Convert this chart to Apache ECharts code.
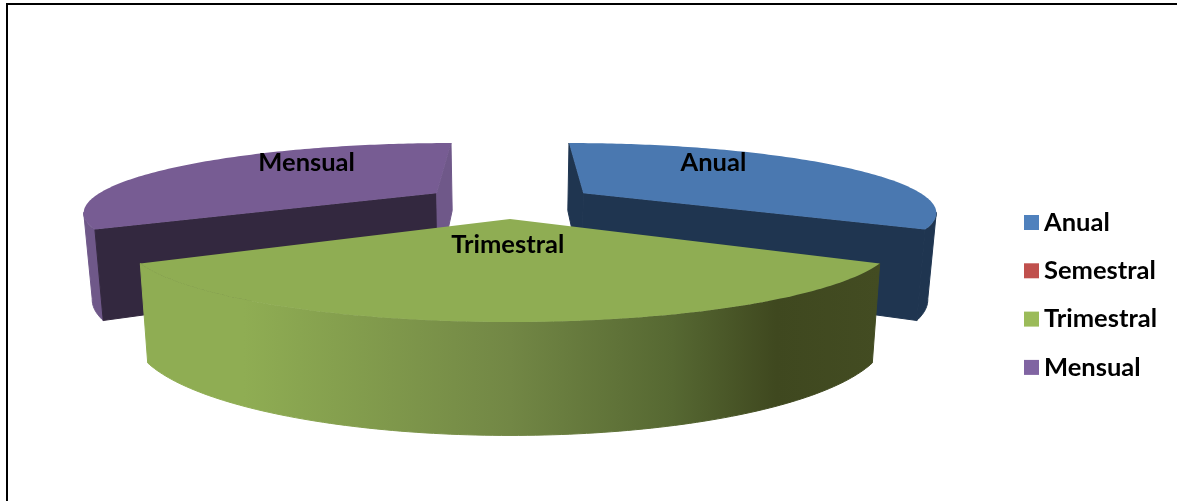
<!DOCTYPE html>
<html><head><meta charset="utf-8">
<style>html,body{margin:0;padding:0;background:#fff}#c{width:1177px;height:501px}</style>
<script src="https://cdn.jsdelivr.net/npm/echarts@6/dist/echarts.min.js"></script>
</head><body><div id="c"></div>
<script>
// Data
const categories = ['Anual', 'Semestral', 'Trimestral', 'Mensual'];
const shares = [33.5, 0, 33, 33.5];
// Styles
const legendColors = ['#4f81bd', '#c0504d', '#9bbb59', '#8064a2'];
const topColors = ['#4a78b0', '#c0504d', '#8fad53', '#775c93'];
const wallStartColors = ['#1f3550', '#5e2625', '#40481f', '#33283f'];
const wallEndColors = ['#1f3550', '#5e2625', '#8fad53', '#6f5889'];
const outerColors = ['#1f3550', '#5e2625', null, '#6f5889'];
const labelAngleShift = [-20, 0, 1, 20];
const labelRadius = [0.72, 0.5, 0.315, 0.72];
// Projection
const CX = 510, CY = 201.3, A = 348, B = 66.4, K = 0.25, HEIGHT = 83.5, KH = 0.211, BOTTOM_X = 0.98;
const EXPLODE = 0.25, START_ANGLE = 0, FONT = 'Lato', FONT_SIZE = 25.5;
const total = shares.reduce((a, b) => a + b, 0);

function project(X, Y, top) {
  const s = 1 / (1 - K * Y);
  return [CX + A * X * s * (top ? 1 : BOTTOM_X), CY + B * Y * s + (top ? 0 : HEIGHT / (1 - KH * Y))];
}
function sliceRange(i) {
  let acc = 0;
  for (let j = 0; j < i; j++) acc += shares[j];
  const a0 = START_ANGLE + acc / total * 360;
  return [a0, a0 + shares[i] / total * 360];
}
function area(p) {
  let s = 0;
  p.forEach((q, i) => { const r = p[(i + 1) % p.length]; s += q[0] * r[1] - r[0] * q[1]; });
  return s;
}
function renderSlice(i) {
  const [a0, a1] = sliceRange(i);
  const rad = d => d * Math.PI / 180;
  const mid = rad((a0 + a1) / 2);
  const ox = EXPLODE * Math.sin(mid), oy = -EXPLODE * Math.cos(mid);
  const pt = (deg, r, top) => project(ox + r * Math.sin(rad(deg)), oy - r * Math.cos(rad(deg)), top);
  const topArc = [], botArc = [];
  const n = 120;
  for (let k = 0; k <= n; k++) {
    const d = a0 + (a1 - a0) * k / n;
    topArc.push(pt(d, 1, true));
    botArc.push(pt(d, 1, false));
  }
  const cT = pt(a0, 0, true), cB = pt(a0, 0, false);
  let fill = outerColors[i];
  if (!fill) {
    const xs = topArc.map(p => p[0]);
    fill = { type: 'linear', global: true, x: Math.min(...xs), y: 0, x2: Math.max(...xs), y2: 0,
      colorStops: [
        { offset: 0, color: '#8fad53' }, { offset: 0.14, color: '#8fad53' },
        { offset: 0.5, color: '#728745' }, { offset: 0.72, color: '#566832' },
        { offset: 0.86, color: '#3f481f' }, { offset: 1, color: '#434c22' }
      ] };
  }
  const poly = (points, f, seal) => ({ type: 'polygon', shape: { points },
    style: seal ? { fill: f, stroke: f, lineWidth: 1, lineJoin: 'round' } : { fill: f } });
  const children = [];
  // outer wall: only the part of the rim that faces the viewer
  const frontT = [], frontB = [];
  for (let k = 0; k < n; k++) {
    if (topArc[k + 1][0] < topArc[k][0]) {
      if (!frontT.length) { frontT.push(topArc[k]); frontB.push(botArc[k]); }
      frontT.push(topArc[k + 1]); frontB.push(botArc[k + 1]);
    }
  }
  if (frontT.length) children.push(poly(frontT.concat(frontB.slice().reverse()), fill, true));
  // radial walls: only when they face the viewer
  const w0 = [cT, topArc[0], botArc[0], cB], w1 = [cT, topArc[n], botArc[n], cB];
  if (area(w0) < 0) children.push(poly(w0, wallStartColors[i], true));
  if (area(w1) > 0) children.push(poly(w1, wallEndColors[i], true));
  children.push(poly([cT].concat(topArc), topColors[i]));
  const la = (a0 + a1) / 2 + labelAngleShift[i];
  const lp = pt(la, labelRadius[i], true);
  children.push({ type: 'text', x: lp[0], y: lp[1], style: {
    text: categories[i], font: 'bold ' + FONT_SIZE + 'px ' + FONT, fill: '#000', align: 'center', verticalAlign: 'middle' } });
  return { type: 'group', children };
}
const chart = echarts.init(document.getElementById('c'), null, { renderer: 'canvas' });
chart.setOption({
  animation: false,
  graphic: [{ type: 'polyline', shape: { points: [[7, 501], [7, 4], [1177, 4]] },
    style: { stroke: '#000', lineWidth: 2, fill: null } }],
  legend: {
    orient: 'vertical', left: 1019, top: 204.5, itemWidth: 15, itemHeight: 15, itemGap: 22.3,
    icon: 'rect', selectedMode: false, data: categories,
    textStyle: { fontFamily: FONT, fontWeight: 'bold', fontSize: FONT_SIZE, lineHeight: 26, color: '#000' }
  },
  series: categories.map((name, i) => ({
    type: 'custom', name, coordinateSystem: 'none', z: i === 2 ? 4 : 2,
    itemStyle: { color: legendColors[i] },
    data: shares[i] > 0 ? [shares[i]] : [],
    renderItem: () => renderSlice(i)
  }))
});
</script></body></html>
